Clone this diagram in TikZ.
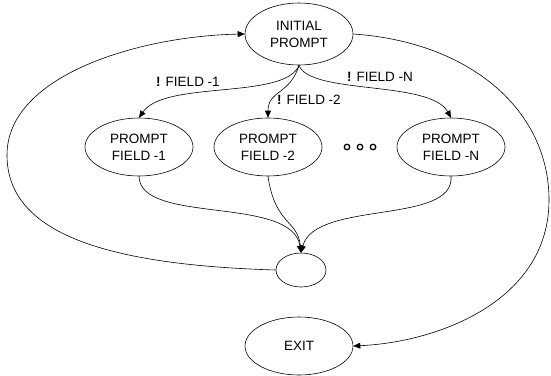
\documentclass[tikz,border=0pt]{standalone}
\usepackage{fontspec}
\setmainfont{Liberation Sans}
\usetikzlibrary{shapes.geometric,arrows.meta}
\begin{document}
\begin{tikzpicture}[x=1pt,y=-1pt,
  state/.style={ellipse,draw,line width=0.6pt,inner sep=0pt,minimum width=108pt,minimum height=58pt,
    font=\fontsize{13.5}{17}\selectfont,align=center},
  conn/.style={line width=0.6pt,-{Triangle[length=7pt,width=6pt]}},
  plain/.style={line width=0.6pt},
  lbl/.style={font=\fontsize{13.5}{16}\selectfont,inner sep=0pt},
  dot/.style={circle,draw,line width=1.3pt,inner sep=0pt,minimum size=5.5pt}]
\useasboundingbox (0,0) rectangle (551,375);
\node[state,minimum height=62pt] (init) at (299,34) {INITIAL\\PROMPT};
\node[state] (f1) at (139,147) {PROMPT\\FIELD -1};
\node[state] (f2) at (268,147) {PROMPT\\FIELD -2};
\node[state] (fn) at (451,147) {PROMPT\\FIELD -N};
\node[ellipse,draw,line width=0.6pt,minimum width=50pt,minimum height=34pt,inner sep=0pt] (join) at (301,270) {};
\node[state] (exit) at (299,346) {EXIT};
\node[dot] (d1) at (347,147) {};
\node[dot] (d2) at (360,147) {};
\node[dot] (d3) at (373,147) {};
\node[lbl] (l1) at (188,82) {\textbf{!} FIELD -1};
\node[lbl] (l2) at (309,100) {\textbf{!} FIELD -2};
\node[lbl] (ln) at (380,77) {\textbf{!} FIELD -N};
\draw[conn] (init.south) .. controls (285,100) and (165,80) .. (f1.north);
\draw[conn] (init.south) .. controls (290,95) and (268,90) .. (f2.north);
\draw[conn] (init.south) .. controls (310,95) and (430,80) .. (fn.north);
\draw[conn] (f1.south) .. controls (140,225) and (292,195) .. (join.north);
\draw[conn] (f2.south) .. controls (275,225) and (298,220) .. (join.north);
\draw[conn] (fn.south) .. controls (455,225) and (315,200) .. (join.north);
\coordinate (lm) at (7,155);
\coordinate (rm) at (549,200);
\draw[plain] (join.west) .. controls (110,265) and (7,235) .. (lm);
\draw[conn] (lm) .. controls (7,75) and (140,36) .. (init.west);
\draw[plain] (init.east) .. controls (470,42) and (549,110) .. (rm);
\draw[conn] (rm) .. controls (549,300) and (440,342) .. (exit.east);
\end{tikzpicture}
\end{document}
